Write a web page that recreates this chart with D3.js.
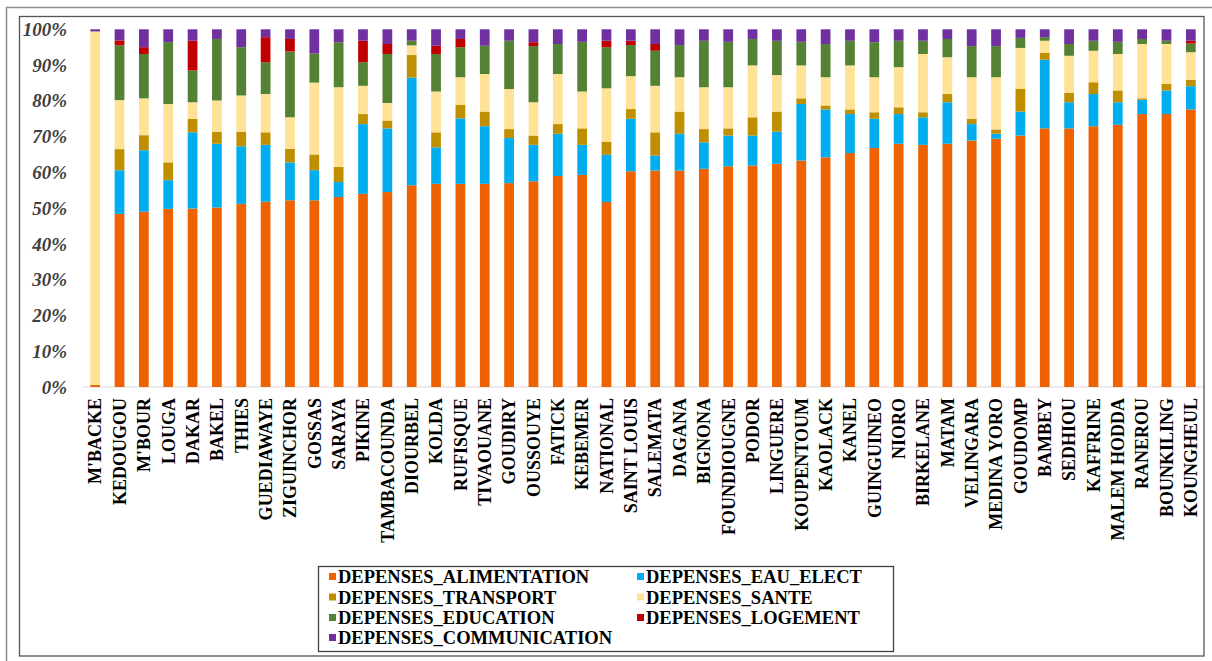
<!DOCTYPE html>
<html>
<head>
<meta charset="utf-8">
<script src="https://cdn.jsdelivr.net/npm/d3@7"></script>
<style>
  html, body { margin: 0; padding: 0; background: #ffffff; }
  svg { display: block; }
</style>
</head>
<body>
<svg id="chart" width="1212" height="661"></svg>
<script>
// Household expenditure structure by department (100% stacked bars)
const categories = ["M'BACKE","KEDOUGOU","M'BOUR","LOUGA","DAKAR","BAKEL","THIES","GUEDIAWAYE","ZIGUINCHOR","GOSSAS","SARAYA","PIKINE","TAMBACOUNDA","DIOURBEL","KOLDA","RUFISQUE","TIVAOUANE","GOUDIRY","OUSSOUYE","FATICK","KEBEMER","NATIONAL","SAINT LOUIS","SALEMATA","DAGANA","BIGNONA","FOUNDIOUGNE","PODOR","LINGUERE","KOUPENTOUM","KAOLACK","KANEL","GUINGUINEO","NIORO","BIRKELANE","MATAM","VELINGARA","MEDINA YORO","GOUDOMP","BAMBEY","SEDHIOU","KAFFRINE","MALEM HODDA","RANEROU","BOUNKILING","KOUNGHEUL"];

const depAlimentation = [0.6,48.4,49.0,49.8,49.9,50.2,51.2,51.8,52.2,52.2,53.1,54.0,54.5,56.4,56.8,56.8,56.8,57.0,57.5,59.0,59.3,51.7,60.3,60.5,60.5,61.0,61.7,61.9,62.4,63.3,64.2,65.4,66.8,68.0,67.7,68.0,68.9,69.4,70.3,72.3,72.3,72.9,73.3,76.3,76.3,77.6];
const depEauElect     = [0,12.2,17.2,8.0,21.3,17.8,16.1,15.9,10.6,8.4,4.2,19.5,17.8,30.1,10.2,18.3,16.1,12.6,10.2,11.8,8.4,13.2,14.7,4.2,10.3,7.4,8.6,8.4,9.0,15.8,13.4,10.9,8.2,8.3,7.7,11.6,4.6,1.4,6.7,19.2,7.3,9.0,6.3,4.0,6.6,6.5];
const depTransport    = [0,5.9,4.2,5.0,3.8,3.4,4.1,3.5,3.8,4.4,4.2,2.8,2.2,6.3,4.2,3.8,4.1,2.5,2.6,2.7,4.6,3.7,2.7,6.5,6.2,3.7,2.0,5.1,5.6,1.6,1.1,1.3,1.8,1.9,1.4,2.3,1.5,1.2,6.4,1.9,2.6,3.3,3.3,0.4,1.8,1.8];
const depSante        = [98.8,13.7,10.3,16.3,4.6,8.7,10.1,10.7,8.8,20.1,22.3,7.9,4.9,2.7,11.4,7.7,10.5,11.2,9.3,14.0,10.3,14.9,9.2,13.0,9.6,11.7,11.5,14.5,10.2,9.2,7.9,12.3,9.8,11.2,16.3,10.3,11.6,14.6,11.4,3.4,10.4,8.8,10.2,15.2,11.2,7.7];
const depEducation    = [0,15.3,12.4,17.3,8.9,17.2,13.5,8.9,18.4,8.1,12.6,6.6,13.7,1.3,10.5,8.4,7.9,13.5,15.7,8.4,13.9,11.5,8.7,9.8,9.0,13.0,12.7,7.4,9.6,6.6,9.3,6.9,9.8,7.4,3.7,5.1,8.7,8.7,2.8,1.0,3.3,2.8,3.4,1.4,0.9,2.4];
const depLogement     = [0,1.4,1.9,0,8.3,0,0,7.0,3.5,0,0,6.0,2.8,0,2.3,2.3,0,0,1.1,0,0,1.8,1.2,1.9,0,0,0,0,0,0,0,0,0,0,0,0,0,0,0,0,0,0,0,0,0,0.8];
const depCommunication= [0.6,3.1,5.0,3.6,3.2,2.7,5.0,2.2,2.7,6.8,3.6,3.2,4.1,3.2,4.6,2.7,4.6,3.2,3.6,4.1,3.5,3.2,3.2,4.1,4.4,3.2,3.5,2.7,3.2,3.5,4.1,3.2,3.6,3.2,3.2,2.7,4.7,4.7,2.4,2.2,4.1,3.2,3.5,2.7,3.2,3.2];

const seriesNames = ["DEPENSES_ALIMENTATION","DEPENSES_EAU_ELECT","DEPENSES_TRANSPORT","DEPENSES_SANTE","DEPENSES_EDUCATION","DEPENSES_LOGEMENT","DEPENSES_COMMUNICATION"];
const seriesValues = [depAlimentation, depEauElect, depTransport, depSante, depEducation, depLogement, depCommunication];
const seriesColors = ["#EE6200","#00AEEF","#BF8F00","#FFE295","#548235","#C00000","#7030A0"];
const yTicks = [0,0.1,0.2,0.3,0.4,0.5,0.6,0.7,0.8,0.9,1];

const rows = categories.map((c, i) => {
  const r = { cat: c };
  seriesNames.forEach((s, k) => { r[s] = seriesValues[k][i]; });
  return r;
});

const stack = d3.stack().keys(seriesNames).offset(d3.stackOffsetExpand);
const layers = stack(rows);

const svg = d3.select("#chart");
const serif = "'Liberation Serif','Times New Roman',serif";

// frames
svg.append("rect").attr("x", 6.5).attr("y", 7.5).attr("width", 1230).attr("height", 700)
  .attr("fill", "none").attr("stroke", "#8c8c8c").attr("stroke-width", 1.5);
svg.append("rect").attr("x", 19.5).attr("y", 16.5).attr("width", 1184.5).attr("height", 639.5)
  .attr("fill", "#ffffff").attr("stroke", "#555555").attr("stroke-width", 1.3);

const x = d3.scaleBand().domain(categories).range([83, 1203]).paddingInner(0.6).paddingOuter(0.3);
const y = d3.scaleLinear().domain([0, 1]).range([387, 29.3]);

// baseline
svg.append("line").attr("x1", 83).attr("x2", 1203).attr("y1", y(0)).attr("y2", y(0))
  .attr("stroke", "#d9d9d9").attr("stroke-width", 1);

// bars
svg.append("g").selectAll("g").data(layers).join("g")
  .attr("fill", (d, i) => seriesColors[i])
  .selectAll("rect").data(d => d).join("rect")
  .attr("x", d => x(d.data.cat))
  .attr("width", x.bandwidth())
  .attr("y", d => y(d[1]))
  .attr("height", d => Math.max(0, y(d[0]) - y(d[1])));

// y axis
const yAxis = svg.append("g").attr("transform", "translate(83,0)")
  .call(d3.axisLeft(y).tickValues(yTicks).tickFormat(d3.format(".0%")).tickSize(0).tickPadding(16));
yAxis.select(".domain").remove();
yAxis.selectAll("text").attr("font-family", serif).attr("font-weight", "bold")
  .attr("font-style", "italic").attr("font-size", 19).attr("fill", "#404040");

// x axis labels
const xAxis = svg.append("g").attr("transform", `translate(0,${y(0)})`)
  .call(d3.axisBottom(x).tickSize(0).tickPadding(0));
xAxis.select(".domain").remove();
xAxis.selectAll("text")
  .attr("font-family", serif).attr("font-weight", "bold").attr("font-size", 18).attr("fill", "#000")
  .attr("text-anchor", "end")
  .attr("transform", "rotate(-90)")
  .attr("x", -11).attr("y", 0).attr("dy", "0.35em");

// legend
const lg = svg.append("g");
lg.append("rect").attr("x", 318.5).attr("y", 566.5).attr("width", 575).attr("height", 85)
  .attr("fill", "#ffffff").attr("stroke", "#404040").attr("stroke-width", 1.3);
const colX = [333, 641];
const rowY = [577, 597.5, 618, 638];
seriesNames.forEach((s, i) => {
  const cx = colX[i % 2], cy = rowY[Math.floor(i / 2)];
  lg.append("rect").attr("x", cx - 4).attr("y", cy - 4).attr("width", 7).attr("height", 7).attr("fill", seriesColors[i]);
  lg.append("text").attr("x", cx + 5).attr("y", cy).attr("dy", "0.35em")
    .attr("font-family", serif).attr("font-weight", "bold").attr("font-size", 18.5).attr("fill", "#000")
    .text(s);
});
</script>
</body>
</html>
